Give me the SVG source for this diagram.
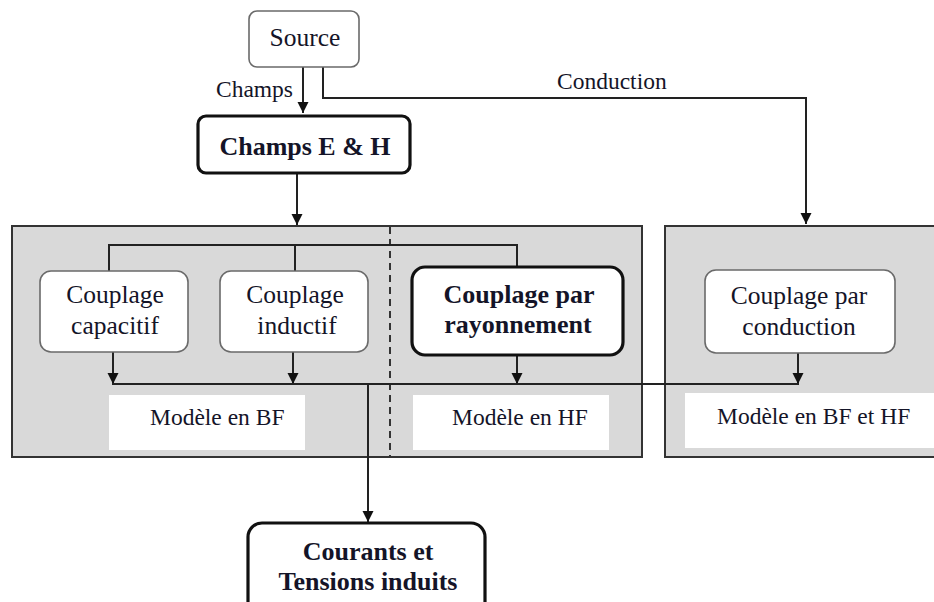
<svg xmlns="http://www.w3.org/2000/svg" width="934" height="602" viewBox="0 0 934 602" font-family="'Liberation Serif', Tinos, 'DejaVu Serif', serif">
<style>
  text { font-family: 'Liberation Serif', Tinos, 'Times New Roman', 'DejaVu Serif', 'Noto Serif', serif; fill: #141428; }
  .lbl { font-size: 23.5px; }
  .box { font-size: 25.5px; text-anchor: middle; }
  .bold { font-size: 26px; font-weight: bold; text-anchor: middle; }
  .thin { fill: #ffffff; stroke: #6a6a6a; stroke-width: 1.6; }
  .thick { fill: #ffffff; stroke: #111111; stroke-width: 3.2; }
  .panel { fill: #d9d9d9; stroke: #333333; stroke-width: 2; }
  .white { fill: #ffffff; stroke: none; }
  .line { fill: none; stroke: #222222; stroke-width: 2; }
  .arrow { fill: none; stroke: #222222; stroke-width: 2; marker-end: url(#ah); }
</style>
<defs>
  <marker id="ah" markerUnits="userSpaceOnUse" markerWidth="12" markerHeight="12" refX="11" refY="6" orient="auto">
    <path d="M0,0.5 L11,6 L0,11.5 z" fill="#111111"/>
  </marker>
</defs>
<rect width="934" height="602" fill="#ffffff"/>

<g id="panel-left">
  <rect class="panel" x="12" y="226" width="630" height="231"/>
  <line x1="390" y1="227" x2="390" y2="456" stroke="#222222" stroke-width="1.8" stroke-dasharray="7 5"/>
  <rect class="white" x="109" y="395" width="196" height="55"/>
  <text class="lbl" x="150" y="425">Modèle en BF</text>
  <rect class="white" x="413" y="395" width="196" height="55"/>
  <text class="lbl" x="452" y="425">Modèle en HF</text>
</g>
<g id="panel-right">
  <rect class="panel" x="665" y="226" width="285" height="231"/>
  <rect class="white" x="685" y="393" width="249" height="55"/>
  <text class="lbl" x="717" y="424">Modèle en BF et HF</text>
</g>

<g id="connectors">
  <line class="arrow" x1="303" y1="67" x2="303" y2="113"/>
  <path class="arrow" d="M323,67 V98 H806 V224"/>
  <line class="arrow" x1="297" y1="173" x2="297" y2="225"/>
  <path class="line" d="M109,271 V245 H517 V267"/>
  <line class="line" x1="295" y1="245" x2="295" y2="271"/>
  <line class="arrow" x1="113" y1="352" x2="113" y2="384"/>
  <line class="arrow" x1="293" y1="352" x2="293" y2="384"/>
  <line class="arrow" x1="517" y1="355" x2="517" y2="384"/>
  <line class="arrow" x1="798" y1="353" x2="798" y2="384"/>
  <line class="line" x1="112" y1="384" x2="799" y2="384"/>
  <line class="arrow" x1="368" y1="384" x2="368" y2="522"/>
  <text class="lbl" x="293" y="97" text-anchor="end">Champs</text>
  <text class="lbl" x="557" y="89">Conduction</text>
</g>

<g id="source">
  <rect class="thin" x="249" y="11" width="110" height="56" rx="8"/>
  <text class="box" x="305" y="46">Source</text>
</g>
<g id="champs-eh">
  <rect class="thick" x="198" y="116" width="212" height="57" rx="8"/>
  <text class="bold" x="305" y="155">Champs E &amp; H</text>
</g>
<g id="couplage-capacitif">
  <rect class="thin" x="40" y="271" width="148" height="81" rx="11"/>
  <text class="box" x="115" y="303">Couplage</text>
  <text class="box" x="115" y="334">capacitif</text>
</g>
<g id="couplage-inductif">
  <rect class="thin" x="220" y="271" width="148" height="81" rx="11"/>
  <text class="box" x="295" y="303">Couplage</text>
  <text class="box" x="297" y="334">inductif</text>
</g>
<g id="couplage-rayonnement">
  <rect class="thick" x="412" y="267" width="211" height="88" rx="13"/>
  <text class="bold" x="519" y="303">Couplage par</text>
  <text class="bold" x="518" y="333">rayonnement</text>
</g>
<g id="couplage-conduction">
  <rect class="thin" x="705" y="270" width="190" height="83" rx="11"/>
  <text class="box" x="799" y="304">Couplage par</text>
  <text class="box" x="799" y="335">conduction</text>
</g>
<g id="courants-tensions">
  <rect class="thick" x="248" y="523" width="237" height="110" rx="14"/>
  <text class="bold" x="368" y="560">Courants et</text>
  <text class="bold" x="368" y="590">Tensions induits</text>
</g>
</svg>
